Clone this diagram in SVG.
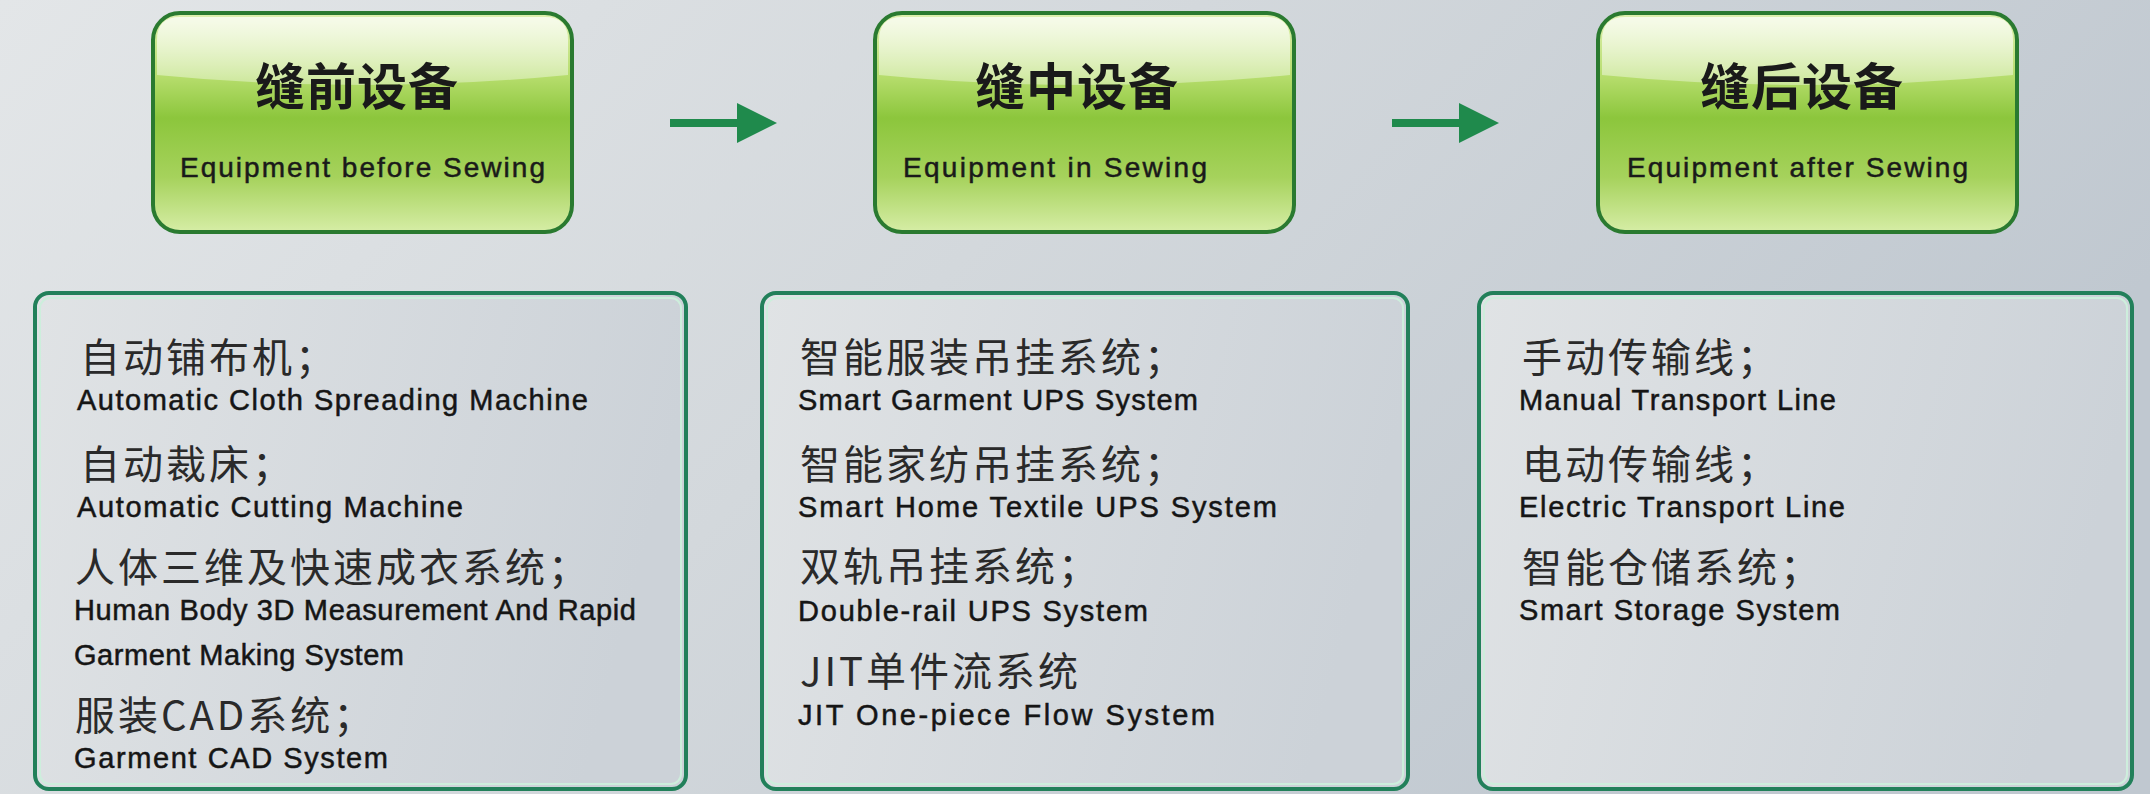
<svg xmlns="http://www.w3.org/2000/svg" width="2150" height="794" viewBox="0 0 2150 794">
<defs>
  <linearGradient id="bg" x1="0" y1="0" x2="1" y2="0.35">
    <stop offset="0" stop-color="#e3e6e8"/>
    <stop offset="0.5" stop-color="#d3d8dc"/>
    <stop offset="1" stop-color="#c0c8d0"/>
  </linearGradient>
  <linearGradient id="headFill" x1="0" y1="0" x2="0" y2="1">
    <stop offset="0" stop-color="#dff0b0"/>
    <stop offset="0.3" stop-color="#b4dc6a"/>
    <stop offset="0.48" stop-color="#8cc63c"/>
    <stop offset="0.75" stop-color="#a6d25c"/>
    <stop offset="1" stop-color="#d6eda6"/>
  </linearGradient>
  <linearGradient id="gloss" x1="0" y1="0" x2="0" y2="1">
    <stop offset="0" stop-color="#ffffff" stop-opacity="0.75"/>
    <stop offset="1" stop-color="#ffffff" stop-opacity="0.35"/>
  </linearGradient>
  <linearGradient id="panelFill" x1="0" y1="0" x2="1" y2="0.2">
    <stop offset="0" stop-color="#e0e3e5"/>
    <stop offset="1" stop-color="#ccd2d8"/>
  </linearGradient>
  <marker id="ah" markerUnits="userSpaceOnUse" markerWidth="40" markerHeight="40" viewBox="0 0 40 40" refX="1" refY="20" orient="auto">
    <path d="M0,0 L40,20 L0,40 Z" fill="#1f8a4c"/>
  </marker>
</defs>
<style>
  .head-box { fill: url(#headFill); stroke: #2a7a30; stroke-width: 4; }
  .gloss { fill: url(#gloss); }
  .title-cn { font-family: "Noto Sans CJK SC", sans-serif; font-size: 50px; font-weight: 700; letter-spacing: 1px; fill: #1a1a1a; }
  .title-en { font-family: "Liberation Sans", sans-serif; font-size: 28px; fill: #1a1a1a; stroke: #1a1a1a; stroke-width: 0.5; }
  .panel { fill: url(#panelFill); stroke: #22805a; stroke-width: 4; }
  .panel-inner { fill: none; stroke: #cdeedc; stroke-width: 2; }
  .cn { font-family: "Noto Sans CJK SC", sans-serif; font-size: 40px; letter-spacing: 3px; fill: #2a2a2a; }
  .en { font-family: "Liberation Sans", sans-serif; font-size: 29px; fill: #151515; stroke: #151515; stroke-width: 0.5; }
  .conn { stroke: #1f8a4c; stroke-width: 8; fill: none; marker-end: url(#ah); }
</style>

<rect x="0" y="0" width="2150" height="794" fill="url(#bg)"/>

<g id="head-before" transform="translate(153,13)">
  <rect class="head-box" x="0" y="0" width="419" height="219" rx="27"/>
  <path class="gloss" d="M4,62 L4,27 Q4,4 27,4 L392,4 Q415,4 415,27 L415,62 Q209.5,82 4,62 Z"/>
  <text class="title-cn" x="102" y="92">缝前设备</text>
  <text class="title-en" x="27" y="164" textLength="365" lengthAdjust="spacing">Equipment before Sewing</text>
</g>

<g id="head-in" transform="translate(875,13)">
  <rect class="head-box" x="0" y="0" width="419" height="219" rx="27"/>
  <path class="gloss" d="M4,62 L4,27 Q4,4 27,4 L392,4 Q415,4 415,27 L415,62 Q209.5,82 4,62 Z"/>
  <text class="title-cn" x="100" y="92">缝中设备</text>
  <text class="title-en" x="28" y="164" textLength="304" lengthAdjust="spacing">Equipment in Sewing</text>
</g>

<g id="head-after" transform="translate(1598,13)">
  <rect class="head-box" x="0" y="0" width="419" height="219" rx="27"/>
  <path class="gloss" d="M4,62 L4,27 Q4,4 27,4 L392,4 Q415,4 415,27 L415,62 Q209.5,82 4,62 Z"/>
  <text class="title-cn" x="102" y="92">缝后设备</text>
  <text class="title-en" x="29" y="164" textLength="341" lengthAdjust="spacing">Equipment after Sewing</text>
</g>

<g id="connectors">
  <line class="conn" x1="670" y1="123" x2="738" y2="123"/>
  <line class="conn" x1="1392" y1="123" x2="1460" y2="123"/>
</g>

<g id="panel-before">
  <rect class="panel" x="35" y="293" width="651" height="496" rx="14"/>
  <rect class="panel-inner" x="40" y="298" width="641" height="486" rx="10"/>
  <text class="cn" x="80" y="372">自动铺布机；</text>
  <text class="en" x="77" y="410" textLength="511" lengthAdjust="spacing">Automatic Cloth Spreading Machine</text>
  <text class="cn" x="80" y="479">自动裁床；</text>
  <text class="en" x="77" y="517" textLength="386" lengthAdjust="spacing">Automatic Cutting Machine</text>
  <text class="cn" x="75" y="582">人体三维及快速成衣系统；</text>
  <text class="en" x="74" y="620" textLength="562" lengthAdjust="spacing">Human Body 3D Measurement And Rapid</text>
  <text class="en" x="74" y="665" textLength="330" lengthAdjust="spacing">Garment Making System</text>
  <text class="cn" x="75" y="730">服装CAD系统；</text>
  <text class="en" x="74" y="768" textLength="314" lengthAdjust="spacing">Garment CAD System</text>
</g>

<g id="panel-in">
  <rect class="panel" x="762" y="293" width="646" height="496" rx="14"/>
  <rect class="panel-inner" x="767" y="298" width="636" height="486" rx="10"/>
  <text class="cn" x="800" y="372">智能服装吊挂系统；</text>
  <text class="en" x="798" y="410" textLength="400" lengthAdjust="spacing">Smart Garment UPS System</text>
  <text class="cn" x="800" y="479">智能家纺吊挂系统；</text>
  <text class="en" x="798" y="517" textLength="479" lengthAdjust="spacing">Smart Home Textile UPS System</text>
  <text class="cn" x="800" y="581">双轨吊挂系统；</text>
  <text class="en" x="798" y="621" textLength="350" lengthAdjust="spacing">Double-rail UPS System</text>
  <text class="cn" x="800" y="686">JIT单件流系统</text>
  <text class="en" x="798" y="725" textLength="417" lengthAdjust="spacing">JIT One-piece Flow System</text>
</g>

<g id="panel-after">
  <rect class="panel" x="1479" y="293" width="653" height="496" rx="14"/>
  <rect class="panel-inner" x="1484" y="298" width="643" height="486" rx="10"/>
  <text class="cn" x="1522" y="372">手动传输线；</text>
  <text class="en" x="1519" y="410" textLength="317" lengthAdjust="spacing">Manual Transport Line</text>
  <text class="cn" x="1522" y="479">电动传输线；</text>
  <text class="en" x="1519" y="517" textLength="326" lengthAdjust="spacing">Electric Transport Line</text>
  <text class="cn" x="1522" y="582">智能仓储系统；</text>
  <text class="en" x="1519" y="620" textLength="321" lengthAdjust="spacing">Smart Storage System</text>
</g>
</svg>
